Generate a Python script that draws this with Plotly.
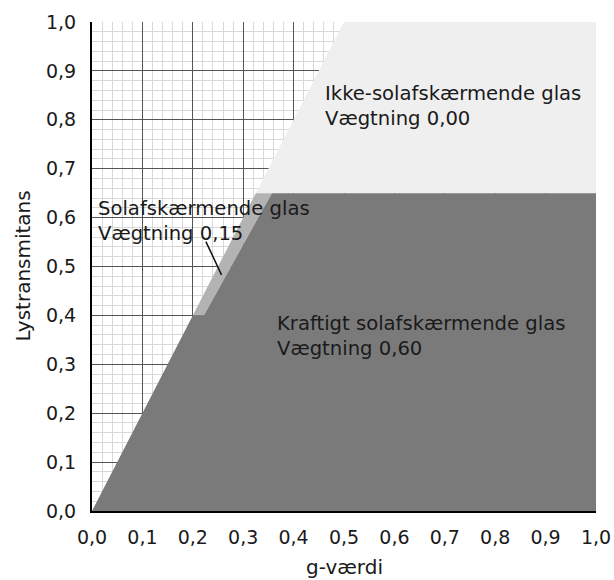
import plotly.graph_objects as go

# Region polygons (g-værdi, lystransmitans)
ikke_x = [0.325, 0.5, 1.0, 1.0]
ikke_y = [0.65, 1.0, 1.0, 0.65]

sol_x = [0.2, 0.325, 0.357, 0.222]
sol_y = [0.4, 0.65, 0.65, 0.4]

kraft_x = [0.0, 0.2, 0.222, 0.357, 1.0, 1.0]
kraft_y = [0.0, 0.4, 0.4, 0.65, 0.65, 0.0]

pointer_x = [0.226, 0.257]
pointer_y = [0.551, 0.483]

tick_vals = [0.0, 0.1, 0.2, 0.3, 0.4, 0.5, 0.6, 0.7, 0.8, 0.9, 1.0]
tick_text = ["0,0", "0,1", "0,2", "0,3", "0,4", "0,5", "0,6", "0,7", "0,8", "0,9", "1,0"]

FONT = "DejaVu Sans"
TXT = "#1a1a1a"

fig = go.Figure()
fig.add_trace(go.Scatter(x=ikke_x, y=ikke_y, fill="toself", mode="lines",
                         line=dict(width=0, color="#efefef"), fillcolor="#efefef",
                         hoverinfo="skip", showlegend=False))
fig.add_trace(go.Scatter(x=sol_x, y=sol_y, fill="toself", mode="lines",
                         line=dict(width=0, color="#b3b3b3"), fillcolor="#b3b3b3",
                         hoverinfo="skip", showlegend=False))
fig.add_trace(go.Scatter(x=kraft_x, y=kraft_y, fill="toself", mode="lines",
                         line=dict(width=0, color="#7a7a7a"), fillcolor="#7a7a7a",
                         hoverinfo="skip", showlegend=False))
fig.add_trace(go.Scatter(x=pointer_x, y=pointer_y, mode="lines",
                         line=dict(width=1.5, color="#111111"),
                         hoverinfo="skip", showlegend=False))

anns = [
    dict(x=0.458, y=0.828, text="Ikke-solafskærmende glas<br>Vægtning 0,00"),
    dict(x=0.008, y=0.594, text="Solafskærmende glas<br>Vægtning 0,15"),
    dict(x=0.363, y=0.357, text="Kraftigt solafskærmende glas<br>Vægtning 0,60"),
]
for a in anns:
    fig.add_annotation(x=a["x"], y=a["y"], text=a["text"], showarrow=False,
                       xanchor="left", yanchor="middle", align="left",
                       font=dict(family=FONT, size=19.6, color=TXT))

# axis titles placed in paper coordinates
fig.add_annotation(x=0.5, y=0, xref="paper", yref="paper", yshift=-56,
                   text="g-værdi", showarrow=False, xanchor="center", yanchor="middle",
                   font=dict(family=FONT, size=20, color=TXT))
fig.add_annotation(x=0, y=0.5, xref="paper", yref="paper", xshift=-70,
                   text="Lystransmitans", showarrow=False, textangle=-90,
                   xanchor="center", yanchor="middle",
                   font=dict(family=FONT, size=20, color=TXT))

axis_common = dict(
    range=[0, 1], tickvals=tick_vals, ticktext=tick_text,
    showgrid=True, gridcolor="#555555", gridwidth=1,
    minor=dict(dtick=0.02, showgrid=True, gridcolor="#d8d8d8", gridwidth=1),
    showline=True, linecolor="#000000", linewidth=2,
    zeroline=False, ticks="outside", tickcolor="rgba(0,0,0,0)",
    tickfont=dict(family=FONT, size=19, color=TXT),
    automargin=False,
)

fig.update_xaxes(**axis_common, ticklen=8)
fig.update_yaxes(**axis_common, ticklen=10)

fig.update_layout(
    width=614, height=580,
    margin=dict(l=92, r=18, t=22, b=69),
    paper_bgcolor="white", plot_bgcolor="white",
    font=dict(family=FONT, color=TXT),
)

fig.write_html(
    "out.html",
    config={"displayModeBar": False},
    post_script="document.body.style.margin='0';document.documentElement.style.overflow='hidden';",
)
